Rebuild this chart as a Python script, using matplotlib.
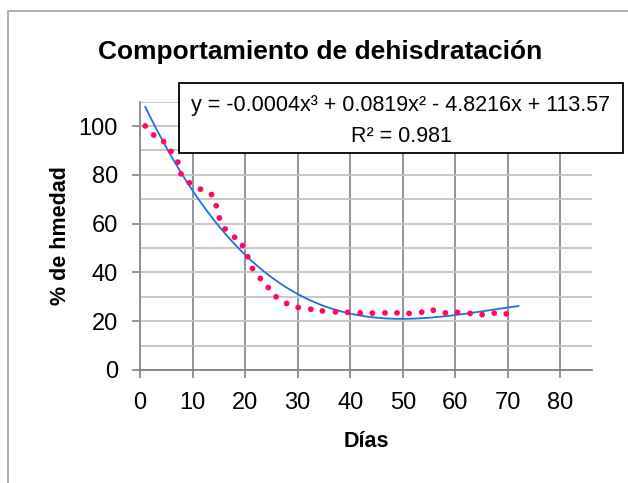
import matplotlib
matplotlib.use("Agg")
import matplotlib.pyplot as plt
import numpy as np
from matplotlib.patches import Rectangle

# days and % humidity
dias = [1.0, 2.6, 4.5, 5.9, 7.2, 7.8, 9.4, 11.5, 13.6, 14.5, 15.1, 16.2, 18.0,
        19.5, 20.5, 21.4, 22.9, 24.4, 25.9, 27.9, 30.1, 32.5, 34.7, 37.2, 39.5,
        41.9, 44.2, 46.6, 48.9, 51.2, 53.6, 55.8, 58.1, 60.4, 62.8, 65.1, 67.4, 69.7]
humedad = [100.0, 96.3, 93.6, 89.6, 85.2, 80.4, 76.7, 74.1, 71.9, 67.3, 62.3, 57.8,
           54.4, 51.0, 46.4, 41.6, 37.5, 33.8, 30.0, 27.3, 25.6, 24.9, 24.2, 23.8,
           23.6, 23.4, 23.3, 23.4, 23.4, 23.2, 23.7, 24.5, 23.4, 23.6, 23.2, 22.7,
           23.3, 23.0]
x_ticks = [0, 10, 20, 30, 40, 50, 60, 70, 80]
y_ticks = [0, 20, 40, 60, 80, 100]
ecuacion = "y = -0.0004x³ + 0.0819x² - 4.8216x + 113.57"
r2_texto = "R² = 0.981"

fuente = ["Liberation Sans", "DejaVu Sans"]

fig = plt.figure(figsize=(6.28, 4.83), dpi=100)
fig.patches.append(Rectangle((8 / 628, -0.1), 1.2, 1 - 11 / 483 + 0.1,
                             transform=fig.transFigure, fill=False,
                             edgecolor="#a0a0a0", lw=1.2))

ax = fig.add_axes([140 / 628, 1 - 370 / 483, (592 - 140) / 628, (370 - 101.6) / 483])

# polynomial trendline (degree 3)
coef = np.polyfit(dias, humedad, 3)
xs = np.linspace(1, 72, 200)
ax.plot(xs, np.polyval(coef, xs), color="#1f6fe8", lw=1.3, zorder=3)
ax.scatter(dias, humedad, s=17, color="#ff0a5e", edgecolors="none", zorder=4)

ax.set_xlim(0, 86)
ax.set_ylim(0, 110)
ax.set_xticks(x_ticks)
ax.set_yticks(y_ticks)
ax.set_yticks(np.arange(10, 111, 10), minor=True)
ax.tick_params(axis="y", which="minor", length=0)
ax.tick_params(axis="both", which="major", direction="out", length=6,
               color="#808080", width=1.2, labelsize=17)
ax.tick_params(axis="x", pad=10)
ax.tick_params(axis="y", pad=10)
for lbl in ax.get_xticklabels() + ax.get_yticklabels():
    lbl.set_family(fuente)

ax.grid(axis="x", which="major", color="#8a8a8a", lw=1.3)
ax.grid(axis="y", which="both", color="#c4c4c4", lw=1.3)
ax.set_axisbelow(True)
for s in ["top", "right"]:
    ax.spines[s].set_visible(False)
ax.spines["left"].set_color("#8a8a8a")
ax.spines["bottom"].set_color("#808080")
ax.spines["left"].set_linewidth(1.3)
ax.spines["bottom"].set_linewidth(1.3)

ax.set_xlabel("Días", fontsize=15.5, fontweight="bold", family=fuente, labelpad=12)
ax.set_ylabel("% de hmedad", fontsize=15.5, fontweight="bold", family=fuente, labelpad=5)

fig.text(320 / 628, 1 - 52 / 483, "Comportamiento de dehisdratación",
         ha="center", va="center", fontsize=19, fontweight="bold", family=fuente)

# equation box
fig.patches.append(Rectangle((179 / 628, 1 - 153 / 483), (623 - 179) / 628, 70 / 483,
                             transform=fig.transFigure, facecolor="white",
                             edgecolor="black", lw=1.3, zorder=5))
fig.text(401 / 628, 1 - 106 / 483, ecuacion, ha="center", va="center",
         fontsize=15.5, family=fuente, zorder=6)
fig.text(401 / 628, 1 - 137 / 483, r2_texto, ha="center", va="center",
         fontsize=15.5, family=fuente, zorder=6)

fig.savefig("out.png", dpi=100)
